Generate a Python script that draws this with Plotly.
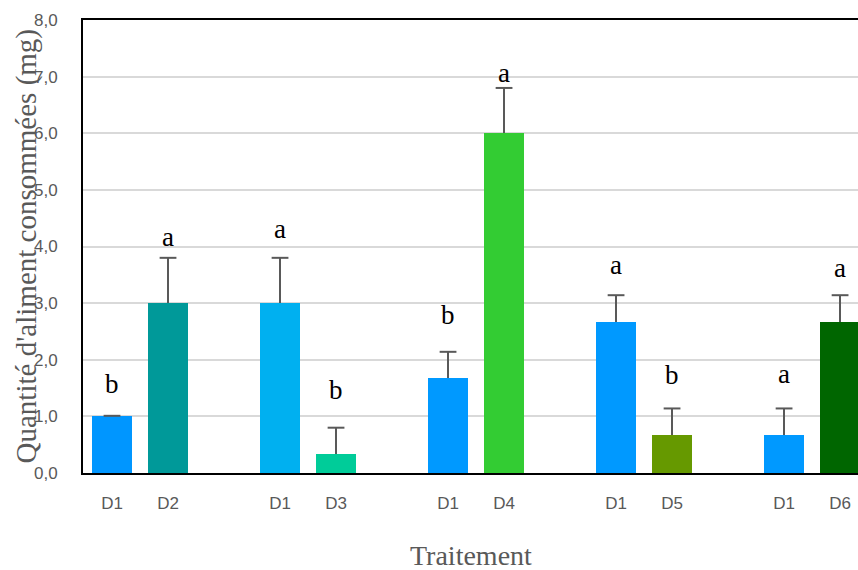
import plotly.graph_objects as go

# Treatment pairs: control D1 against each dose
labels = ["D1", "D2", "D1", "D3", "D1", "D4", "D1", "D5", "D1", "D6"]
means = [1.0, 3.0, 3.0, 0.33, 1.67, 6.0, 2.67, 0.67, 0.67, 2.67]
errors = [0.01, 0.8, 0.8, 0.47, 0.47, 0.8, 0.47, 0.47, 0.47, 0.47]
letters = ["b", "a", "a", "b", "b", "a", "a", "b", "a", "a"]
letter_y = [1.57, 4.17, 4.31, 1.47, 2.79, 7.07, 3.67, 1.73, 1.75, 3.62]
colors = ["#0096FF", "#009999", "#00B0F0", "#00CC99", "#0099FF",
          "#33CC33", "#0099FF", "#669900", "#0099FF", "#006600"]
y_ticks = [0, 1, 2, 3, 4, 5, 6, 7, 8]

ERR_COLOR = "#595959"

# two bars per pair, one empty slot between pairs
xpos = [(i // 2) * 3 + (i % 2) for i in range(len(labels))]
tops = [m + e for m, e in zip(means, errors)]

fig = go.Figure()
# bars with upward-only error stems (caps drawn separately, top only)
fig.add_trace(go.Bar(
    x=xpos, y=means, width=0.714,
    marker=dict(color=colors, line=dict(width=0)),
    error_y=dict(type="data", array=errors, arrayminus=[0] * len(errors),
                 symmetric=False, color=ERR_COLOR, thickness=2, width=0),
    showlegend=False, hoverinfo="skip",
))
fig.add_trace(go.Scatter(
    x=xpos, y=tops, mode="markers",
    marker=dict(symbol="line-ew", size=12, line=dict(color=ERR_COLOR, width=2)),
    showlegend=False, hoverinfo="skip",
))

for xp, yl, t in zip(xpos, letter_y, letters):
    fig.add_annotation(x=xp, y=yl, text=t, showarrow=False,
                       xanchor="center", yanchor="middle",
                       font=dict(family="Liberation Serif", size=27, color="#000000"))

fig.add_annotation(xref="paper", yref="paper", x=-0.0723, y=0.5,
                   text="Quantité d'aliment consommées (mg)", textangle=-90,
                   showarrow=False, xanchor="center", yanchor="middle",
                   font=dict(family="Liberation Serif", size=29, color="#595959"))
fig.add_annotation(xref="paper", yref="paper", x=0.5, y=-0.183,
                   text="Traitement", showarrow=False,
                   xanchor="center", yanchor="middle",
                   font=dict(family="Liberation Serif", size=28, color="#595959"))

fig.update_layout(
    width=858, height=570,
    margin=dict(l=83, r=0, t=20, b=97),
    paper_bgcolor="white", plot_bgcolor="white",
    bargap=0,
    xaxis=dict(range=[-0.518, 13.32], tickvals=xpos, ticktext=labels,
               showgrid=False, zeroline=False,
               showline=True, linecolor="#000000", linewidth=2, mirror=True,
               ticks="", ticklabelstandoff=14,
               tickfont=dict(family="Liberation Sans", size=17, color="#595959")),
    yaxis=dict(range=[0, 8], tickvals=y_ticks,
               ticktext=[f"{v:.1f}".replace(".", ",") for v in y_ticks],
               showgrid=True, gridcolor="#D9D9D9", gridwidth=1.5,
               zeroline=False, showline=True, linecolor="#000000", linewidth=2,
               ticks="", ticklabelstandoff=20,
               tickfont=dict(family="Liberation Sans", size=17, color="#595959")),
)

fig.write_html("out.html")
